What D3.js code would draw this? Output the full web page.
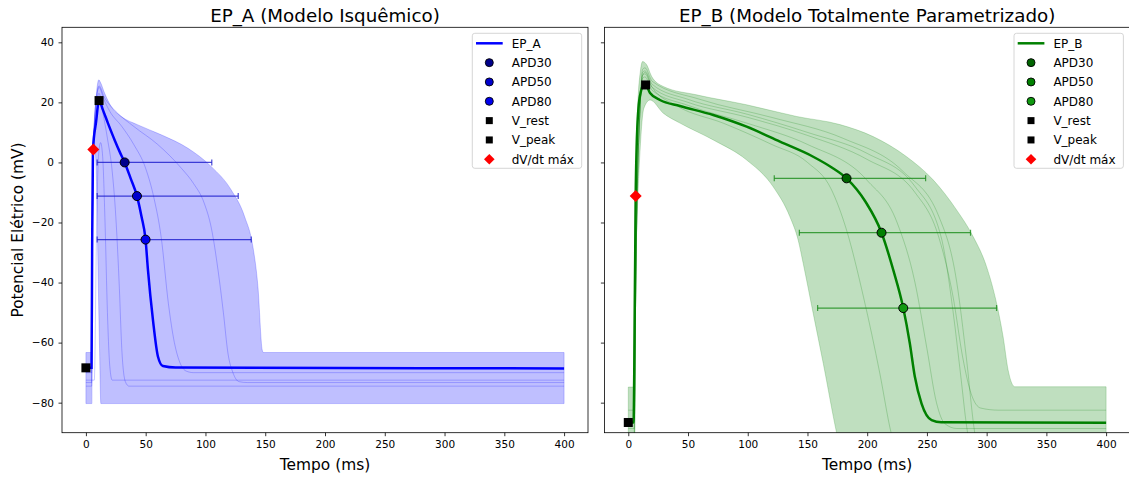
<!doctype html>
<html>
<head>
<meta charset="utf-8"/>
<title>EP_A vs EP_B</title>
<script src="https://cdnjs.cloudflare.com/ajax/libs/d3/7.8.5/d3.min.js"></script>
<style>
  body { margin: 0; background: #fff; }
  svg { display: block; font-family: "DejaVu Sans", sans-serif; }
</style>
</head>
<body>
<svg id="chart" width="1129" height="477"></svg>
<script>
// ---- data: [tempo (ms), potencial (mV)] ----
var xTicks = [0, 50, 100, 150, 200, 250, 300, 350, 400];
var yTicks = [-80, -60, -40, -20, 0, 20, 40];
var xDomain = [-20, 420];
var yDomain = [-90, 45];

var legendLabels = ["APD30", "APD50", "APD80", "V_rest", "V_peak", "dV/dt máx"];
var apdLabels = ["APD30", "APD50", "APD80"];

// EP_A
var meanA = [[0,-68.4],[4.7,-68.4],[5.2,-30],[5.9,4.2],[8.5,13.5],[11,20.6],[14.2,17.5],[18.4,13.1],[24,7.5],[28.2,3.6],[32.4,0],[37.5,-5.4],[42.7,-11.2],[46.5,-18],[49.9,-25.7],[51.9,-35.8],[56.1,-52.5],[60.3,-64.7],[64.4,-67.8],[75,-68.3],[400,-68.6]];
var upperA = [[0,-63.3],[5.0,-63.3],[5.15,-20],[5.4,2],[6.2,9],[7.2,15],[8.4,21],[9.5,25.5],[10.8,27.5],[12,26.8],[15.6,23.1],[21.2,18.6],[29.6,15.3],[43.5,12.5],[63,9.2],[85.4,4.7],[104.9,-1.4],[121.6,-9.2],[132.8,-18.1],[139.7,-28.1],[143.9,-41.4],[147.5,-62.5],[148.5,-63.3],[400,-63.3]];
var lowerA = [[0,-80.3],[5.0,-80.3],[5.35,-20],[5.9,2],[6.8,4.5],[7.7,3.5],[8.4,0],[9.3,-15],[10.3,-39],[11.4,-62],[12.5,-80.3],[13.5,-80.3],[400,-80.3]];
var thinA1 = [[0,-72.5],[7,-72.5],[9,-20],[10.5,2],[12.3,6.6],[14,2],[16,-20],[18,-50],[20,-68],[22,-72.5],[400,-72.5]];
var thinA2 = [[0,-74.5],[4.8,-74.5],[5.5,-20],[7,10],[9,20],[11,23],[14,17],[18,8],[22,-3],[25,-18],[28,-42],[30,-62],[33,-73],[36,-74.5],[400,-74.5]];
var thinA3 = [[0,-70],[4.8,-70],[5.5,-20],[7,12],[9,22],[11,25],[15,21],[20,17],[30,12],[40,6],[50,-2],[57,-12],[63,-25],[69,-47],[74,-60],[78,-66],[84,-69.5],[90,-70],[400,-70]];
var thinA4 = [[0,-73.3],[4.8,-73.3],[5.5,-20],[7,12],[9,22],[11,25.5],[15,22],[25,17],[40,12],[60,6],[80,-2],[90,-7],[99,-13.6],[105,-22],[110.5,-35.8],[115,-50],[118.8,-63.5],[123,-70],[128,-73],[135,-73.3],[400,-73.3]];
var apdPointsA = [[32.4,0],[42.7,-11.2],[49.9,-25.7]];
var apdRangeA = [[9.4,105.3],[9.4,127.4],[9.4,138.3]];
var vRestA = [0,-68.4], vPeakA = [11,20.6], dvdtA = [6.2,4.3];

// EP_B
var meanB = [[0,-86.6],[4.4,-86.6],[5.2,-60],[5.8,-30],[6.2,-11.2],[7,5],[8.5,18],[10.5,23.5],[12.5,25.5],[14.5,25.8],[18.2,23.1],[26.5,20.8],[43.3,18.8],[71.1,15.8],[99.1,11.9],[127,6.9],[154.8,1.9],[170,-1.6],[182.7,-5.3],[198.6,-13.1],[212,-23.4],[221.8,-35.8],[230.2,-48.5],[235.7,-60.3],[239.9,-71.4],[245.5,-80.3],[253.9,-85.8],[262,-86.5],[400,-86.7]];
var upperB = [[0,-74.8],[4.2,-74.8],[5,-40],[6,-5],[8,20],[10,30],[12,33.6],[15.4,32.5],[19.6,28.6],[29.3,25.3],[57.2,22.5],[99,19.2],[141,15.3],[177.2,12.6],[205,8.6],[233,1.9],[255.2,-5.8],[274.8,-15.8],[288.7,-24.7],[299.9,-34.7],[308.3,-46.9],[313.8,-58.1],[318,-69.2],[323.6,-74.7],[400,-74.7]];
var lowerB = [[0,-100],[4.6,-100],[5.4,-60],[6.5,-30],[8,-12],[10,5],[13,18],[18.2,20.8],[29.3,16.4],[43.3,13.1],[71.1,7.5],[99.1,0.8],[121.3,-8.1],[135.3,-18.1],[142.3,-26],[146.4,-33.6],[154.8,-50.3],[163.2,-66.9],[174.4,-90.1],[180,-100],[400,-100]];
var thinB1 = [[0,-100],[5,-100],[6,-50],[7.5,-10],[9.5,15],[12,29],[14,30],[20,25],[40,19],[80,13],[120,6],[150,0],[170,-9],[182.7,-22.5],[197,-45],[210.6,-70.3],[220,-90],[228,-100],[400,-100]];
var thinB2 = [[0,-88.6],[5,-88.6],[6,-50],[7.5,-10],[9.5,15],[12,28],[14,28.5],[20,24],[50,19],[100,13],[150,6],[200,-6],[225,-20],[240,-40],[250,-62],[258,-80],[265,-87],[275,-88.6],[400,-88.6]];
var thinB3 = [[0,-82.5],[5,-82.5],[6,-50],[7.5,-10],[9.5,15],[12,29],[14,29.5],[20,25],[50,20],[100,15],[150,9],[200,1],[240,-10],[260,-25],[272,-45],[280,-65],[287,-77],[295,-81.8],[310,-82.5],[400,-82.5]];
var thinB4 = [[0,-100],[5,-100],[6,-50],[7.5,-10],[9.5,15],[12,30],[14,30.5],[20,26],[50,21],[100,16],[150,10],[200,3],[240,-8],[262,-25],[272,-50],[278,-70],[284,-90],[290,-100],[400,-100]];
var thinB5 = [[0,-95],[5,-95],[6,-50],[7.5,-10],[9.5,15],[12,31],[14,31.5],[20,27],[60,21],[120,15],[180,8],[230,-3],[260,-18],[275,-40],[283,-65],[290,-90],[296,-100],[400,-100]];
var apdPointsB = [[182.7,-5.3],[212,-23.4],[230.2,-48.5]];
var apdRangeB = [[122.2,248.9],[143.2,286.5],[158.5,308.3]];
var vRestB = [0,-86.6], vPeakB = [14.5,25.8], dvdtB = [6.2,-11.2];

// ---- layout ----
var svg = d3.select("#chart");
var axTop = 27.3, axBottom = 432.7;

function fmt(d) { return d < 0 ? "\u2212" + Math.abs(d) : String(d); }

function diamond(s) {
  return "M0," + (-s) + "L" + s + ",0L0," + s + "L" + (-s) + ",0Z";
}

function drawPanel(p) {
  var x = d3.scaleLinear().domain(xDomain).range([p.left, p.right]);
  var y = d3.scaleLinear().domain(yDomain).range([axBottom, axTop]);
  var g = svg.append("g");

  g.append("clipPath").attr("id", p.id + "clip")
    .append("rect").attr("x", p.left).attr("y", axTop)
    .attr("width", p.right - p.left).attr("height", axBottom - axTop);

  var line = d3.line().x(function(d){ return x(d[0]); })
    .y(function(d){ return y(d[1]); }).curve(d3.curveMonotoneX);

  var plot = g.append("g").attr("clip-path", "url(#" + p.id + "clip)");

  // envelope
  var envPath = line(p.upper) + "L" + line(p.lower.slice().reverse()).slice(1) + "Z";
  plot.append("path").attr("d", envPath)
    .attr("fill", p.color).attr("fill-opacity", 0.25)
    .attr("stroke", p.color).attr("stroke-opacity", 0.2).attr("stroke-width", 1);

  // individual traces
  plot.selectAll("path.thin").data(p.thin).enter().append("path")
    .attr("class", "thin").attr("d", line)
    .attr("fill", "none").attr("stroke", p.color)
    .attr("stroke-opacity", 0.28).attr("stroke-width", 0.8);

  // mean trace
  plot.append("path").attr("d", line(p.mean))
    .attr("fill", "none").attr("stroke", p.color).attr("stroke-width", 2.5);

  // APD error bars
  var eb = plot.selectAll("g.eb").data(p.apdRange).enter().append("g").attr("class", "eb")
    .attr("stroke", p.barColor).attr("stroke-opacity", 0.8).attr("stroke-width", 1.2);
  eb.append("line")
    .attr("x1", function(d){ return x(d[0]); }).attr("x2", function(d){ return x(d[1]); })
    .attr("y1", function(d, i){ return y(p.apdPoints[i][1]); })
    .attr("y2", function(d, i){ return y(p.apdPoints[i][1]); });
  [0, 1].forEach(function(k) {
    eb.append("line")
      .attr("x1", function(d){ return x(d[k]); }).attr("x2", function(d){ return x(d[k]); })
      .attr("y1", function(d, i){ return y(p.apdPoints[i][1]) - 3; })
      .attr("y2", function(d, i){ return y(p.apdPoints[i][1]) + 3; });
  });

  plot.selectAll("circle.apd").data(p.apdPoints).enter().append("circle")
    .attr("class", "apd")
    .attr("cx", function(d){ return x(d[0]); }).attr("cy", function(d){ return y(d[1]); })
    .attr("r", 4.5).attr("fill", function(d, i){ return p.apdColors[i]; })
    .attr("stroke", "#000").attr("stroke-width", 1);

  // rest / peak squares and dV/dt diamond
  [p.vRest, p.vPeak].forEach(function(d) {
    plot.append("rect").attr("x", x(d[0]) - 4.5).attr("y", y(d[1]) - 4.5)
      .attr("width", 9).attr("height", 9).attr("fill", "#000");
  });
  plot.append("path").attr("d", diamond(6))
    .attr("transform", "translate(" + x(p.dvdt[0]) + "," + y(p.dvdt[1]) + ")")
    .attr("fill", "#ff0000");

  // axes
  var xAxis = d3.axisBottom(x).tickValues(xTicks).tickFormat(fmt)
    .tickSize(3.5).tickPadding(4.5).tickSizeOuter(0);
  var gx = g.append("g").attr("transform", "translate(0," + axBottom + ")").call(xAxis);
  var yAxis = d3.axisLeft(y).tickValues(yTicks).tickSize(3.5).tickPadding(4.5).tickSizeOuter(0)
    .tickFormat(p.yLabels ? fmt : function(){ return ""; });
  var gy = g.append("g").attr("transform", "translate(" + p.left + ",0)").call(yAxis);
  [gx, gy].forEach(function(a) {
    a.select(".domain").remove();
    a.selectAll("line").attr("stroke", "#000").attr("stroke-width", 0.8);
    a.selectAll("text").attr("font-size", "10.5px").attr("fill", "#000")
      .attr("font-family", "DejaVu Sans, sans-serif");
  });

  g.append("rect").attr("x", p.left).attr("y", axTop)
    .attr("width", p.right - p.left).attr("height", axBottom - axTop)
    .attr("fill", "none").attr("stroke", "#000").attr("stroke-width", 0.8);

  var cx = (p.left + p.right) / 2;
  g.append("text").attr("x", cx).attr("y", 21.5).attr("text-anchor", "middle")
    .attr("font-size", "18.3px").attr("fill", "#000").text(p.title);
  g.append("text").attr("x", cx).attr("y", 470).attr("text-anchor", "middle")
    .attr("font-size", "15.4px").attr("fill", "#000").text("Tempo (ms)");

  // legend
  var lg = g.append("g").attr("transform", "translate(" + p.legendX + ",33.3)");
  lg.append("rect").attr("width", 109.4).attr("height", 135).attr("rx", 2.5)
    .attr("fill", "#fff").attr("fill-opacity", 0.8)
    .attr("stroke", "#cccccc").attr("stroke-width", 0.8);
  var rows = [p.name].concat(legendLabels);
  rows.forEach(function(label, i) {
    var ry = 10 + i * 19.33;
    if (i === 0) {
      lg.append("line").attr("x1", 3.7).attr("x2", 30.4).attr("y1", ry).attr("y2", ry)
        .attr("stroke", p.color).attr("stroke-width", 2.5);
    } else if (i <= 3) {
      lg.append("circle").attr("cx", 17).attr("cy", ry).attr("r", 4)
        .attr("fill", p.apdColors[i - 1]).attr("stroke", "#000").attr("stroke-width", 0.9);
    } else if (i <= 5) {
      lg.append("rect").attr("x", 13.5).attr("y", ry - 3.5).attr("width", 7).attr("height", 7)
        .attr("fill", "#000");
    } else {
      lg.append("path").attr("d", diamond(5.3))
        .attr("transform", "translate(17," + ry + ")").attr("fill", "#ff0000");
    }
    lg.append("text").attr("x", 39.4).attr("y", ry).attr("dy", "0.36em")
      .attr("font-size", "12px").attr("fill", "#000").text(label);
  });
}

drawPanel({
  id: "a", name: "EP_A", title: "EP_A (Modelo Isquêmico)",
  left: 62, right: 588, yLabels: true, legendX: 472.3,
  color: "#0000ff", barColor: "#1a1acc",
  apdColors: ["#00008b", "#0000cd", "#0000ee"],
  mean: meanA, upper: upperA, lower: lowerA, thin: [thinA1, thinA2, thinA3, thinA4],
  apdPoints: apdPointsA, apdRange: apdRangeA, vRest: vRestA, vPeak: vPeakA, dvdt: dvdtA
});
drawPanel({
  id: "b", name: "EP_B", title: "EP_B (Modelo Totalmente Parametrizado)",
  left: 604.4, right: 1130, yLabels: false, legendX: 1014,
  color: "#008000", barColor: "#1a8c1a",
  apdColors: ["#006400", "#008000", "#109910"],
  mean: meanB, upper: upperB, lower: lowerB, thin: [thinB1, thinB2, thinB3, thinB4, thinB5],
  apdPoints: apdPointsB, apdRange: apdRangeB, vRest: vRestB, vPeak: vPeakB, dvdt: dvdtB
});

svg.append("text").attr("transform", "translate(17,230) rotate(-90)")
  .attr("text-anchor", "middle").attr("dy", "0.36em")
  .attr("font-size", "15.4px").attr("fill", "#000").text("Potencial Elétrico (mV)");
</script>
</body>
</html>
